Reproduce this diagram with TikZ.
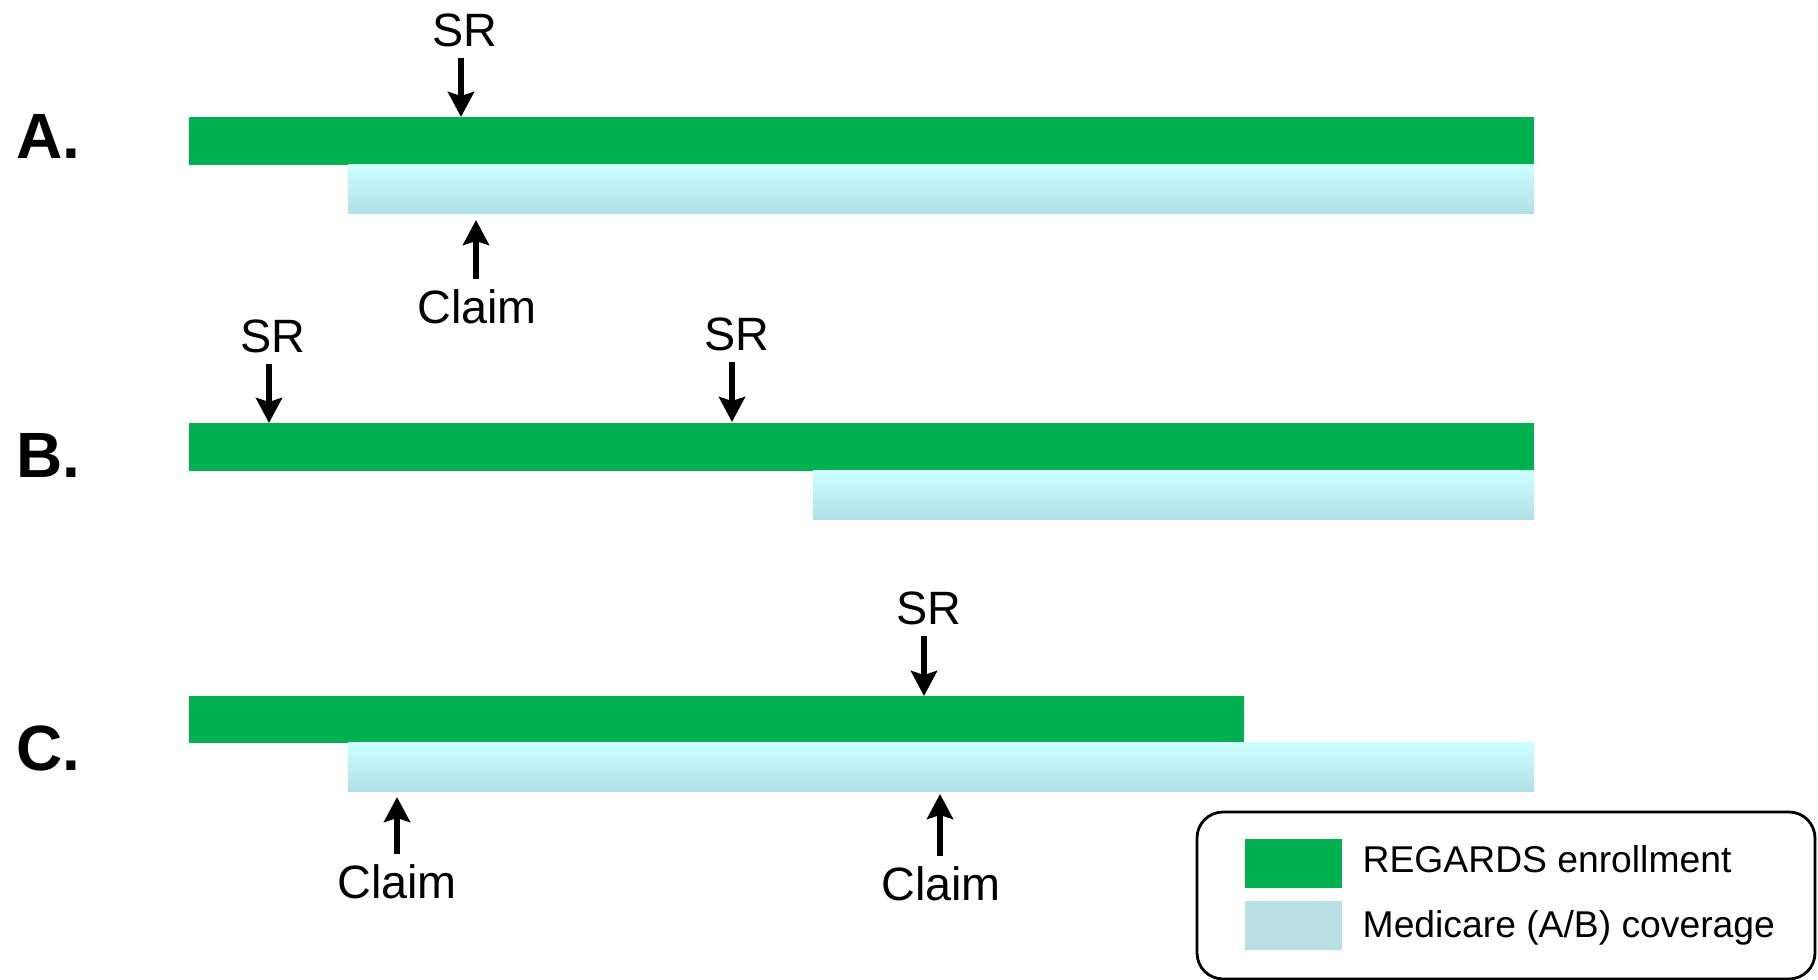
\documentclass[tikz,border=0pt]{standalone}
\usepackage{fontspec}
\setmainfont{Liberation Sans}
\usetikzlibrary{arrows.meta}
\definecolor{EnrolClr}{RGB}{0,176,80}
\definecolor{CoverTopClr}{RGB}{204,255,255}
\definecolor{CoverBotClr}{RGB}{176,224,230}
\definecolor{CoverClr}{RGB}{185,224,227}

\begin{document}
\begin{tikzpicture}[x=0.01cm,y=-0.01cm,
  enrol/.style={fill=EnrolClr},
  cover/.style={top color=CoverTopClr,bottom color=CoverBotClr},
  evt/.style={font=\fontsize{13.3}{15}\selectfont,anchor=base,inner sep=0.11cm,outer sep=0pt},
  tag/.style={font=\fontsize{18.2}{20}\selectfont\bfseries,anchor=base west,inner sep=0pt},
  legtxt/.style={font=\fontsize{10.6}{12}\selectfont,anchor=base west,inner sep=0pt},
  ptr/.style={line width=1.6pt,-{Stealth[length=0.25cm,width=0.26cm,inset=0.04cm]}}]
\useasboundingbox (0,0) rectangle (1818,980);

% A.
\node[tag] (labA) at (16,159) {A.};
\fill[enrol] (189,117) rectangle (1534,165);
\shade[cover] (348,165) rectangle (1534,214);
\node[evt] (srA) at (465,47) {SR};
\coordinate (tipSrA) at (461,117);
\draw[ptr] (srA.south -| tipSrA) -- (tipSrA);
\node[evt] (clA) at (477,324) {Claim};
\coordinate (tipClA) at (476,220);
\draw[ptr] (clA.north -| tipClA) -- (tipClA);

% B.
\node[tag] (labB) at (16,478) {B.};
\fill[enrol] (189,423) rectangle (1534,471);
\shade[cover] (813,471) rectangle (1534,520);
\node[evt] (srB) at (273,353) {SR};
\coordinate (tipSrB) at (269,423);
\draw[ptr] (srB.south -| tipSrB) -- (tipSrB);
\node[evt] (srBB) at (737,351) {SR};
\coordinate (tipSrBB) at (732,422);
\draw[ptr] (srBB.south -| tipSrBB) -- (tipSrBB);

% C.
\node[tag] (labC) at (16,771) {C.};
\fill[enrol] (189,696) rectangle (1244,743);
\shade[cover] (348,743) rectangle (1534,792);
\node[evt] (srC) at (929,625) {SR};
\coordinate (tipSrC) at (924,696);
\draw[ptr] (srC.south -| tipSrC) -- (tipSrC);
\node[evt] (clC) at (397,899) {Claim};
\coordinate (tipClC) at (397,797);
\draw[ptr] (clC.north -| tipClC) -- (tipClC);
\node[evt] (clCC) at (941,901) {Claim};
\coordinate (tipClCC) at (940,794);
\draw[ptr] (clCC.north -| tipClCC) -- (tipClCC);

% legend
\draw[line width=0.8pt,rounded corners=0.26cm] (1197,812) rectangle (1815,979);
\fill[EnrolClr] (1245,839) rectangle (1342,888);
\fill[CoverClr] (1245,901) rectangle (1342,950);
\node[legtxt] (legEnrol) at (1362,873) {REGARDS enrollment};
\node[legtxt] (legCover) at (1362,938) {Medicare (A/B) coverage};

\end{tikzpicture}
\end{document}
